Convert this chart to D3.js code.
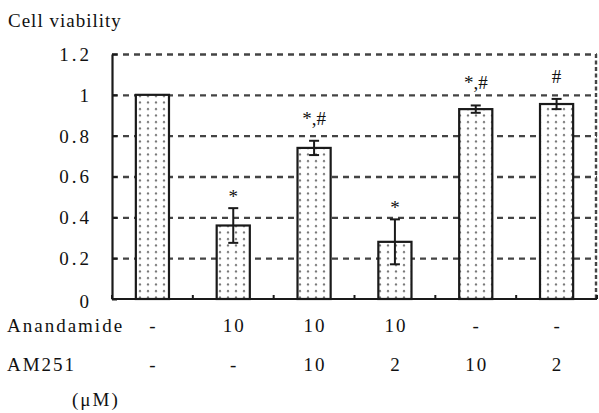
<!DOCTYPE html>
<html>
<head>
<meta charset="utf-8">
<script src="https://cdn.jsdelivr.net/npm/d3@7"></script>
<style>
  body { margin: 0; background: #fff; }
</style>
</head>
<body>
<div id="chart"></div>
<script>
// values
var viability = [1.0, 0.36, 0.74, 0.28, 0.93, 0.955];
var errors = [0, 0.085, 0.035, 0.11, 0.018, 0.025];
var marks = ["", "*", "*,#", "*", "*,#", "#"];
var anandamide = ["-", "10", "10", "10", "-", "-"];
var am251 = ["-", "-", "10", "2", "10", "2"];
var yTicks = [0, 0.2, 0.4, 0.6, 0.8, 1, 1.2];

var serif = '"Liberation Serif", "Times New Roman", "DejaVu Serif", serif';

var width = 599, height = 413;
var margin = {top: 54, right: 2, bottom: 114, left: 112};
var plotW = width - margin.left - margin.right,
    plotH = height - margin.top - margin.bottom;

var svg = d3.select("#chart").append("svg")
    .attr("width", width)
    .attr("height", height)
    .style("font-family", serif);

var defs = svg.append("defs");
var pat = defs.append("pattern")
    .attr("id", "dots")
    .attr("patternUnits", "userSpaceOnUse")
    .attr("width", 8)
    .attr("height", 6.5);
pat.append("rect").attr("width", 8).attr("height", 6.5).attr("fill", "#fff");
pat.append("circle").attr("cx", 4).attr("cy", 3).attr("r", 1.1).attr("fill", "#707070");

var g = svg.append("g")
    .attr("transform", "translate(" + margin.left + "," + margin.top + ")");

var x = d3.scaleBand()
    .domain(d3.range(viability.length))
    .range([0, plotW]);

var y = d3.scaleLinear()
    .domain([0, 1.2])
    .range([plotH, 0]);

// dashed grid
g.append("g")
    .attr("class", "grid")
    .call(d3.axisLeft(y).tickValues(yTicks.filter(d => d > 0)).tickSize(-plotW).tickFormat(""))
    .call(s => s.select(".domain").remove())
    .selectAll("line")
      .attr("stroke", "#444")
      .attr("stroke-width", 2.4)
      .attr("stroke-dasharray", "6,5");

// right dashed border
g.append("line")
    .attr("x1", plotW - 1).attr("x2", plotW - 1)
    .attr("y1", 0).attr("y2", plotH)
    .attr("stroke", "#444")
    .attr("stroke-width", 2.4)
    .attr("stroke-dasharray", "4,2.5");

// bars
var bw = x.bandwidth() * 0.41;
g.selectAll(".bar")
    .data(viability)
  .enter().append("rect")
    .attr("class", "bar")
    .attr("x", (d, i) => x(i) + (x.bandwidth() - bw) / 2)
    .attr("y", d => y(d))
    .attr("width", bw)
    .attr("height", d => plotH - y(d))
    .attr("fill", "url(#dots)")
    .attr("stroke", "#1a1a1a")
    .attr("stroke-width", 2.2);

// error bars
var eb = g.selectAll(".err")
    .data(viability.map((v, i) => ({v: v, e: errors[i], i: i})).filter(d => d.e > 0))
  .enter().append("g")
    .attr("class", "err")
    .attr("stroke", "#1a1a1a")
    .attr("stroke-width", 2);

eb.append("line")
    .attr("x1", d => x(d.i) + x.bandwidth() / 2)
    .attr("x2", d => x(d.i) + x.bandwidth() / 2)
    .attr("y1", d => y(d.v + d.e))
    .attr("y2", d => y(d.v - d.e));
eb.append("line")
    .attr("x1", d => x(d.i) + x.bandwidth() / 2 - 5)
    .attr("x2", d => x(d.i) + x.bandwidth() / 2 + 5)
    .attr("y1", d => y(d.v + d.e))
    .attr("y2", d => y(d.v + d.e));
eb.append("line")
    .attr("x1", d => x(d.i) + x.bandwidth() / 2 - 5)
    .attr("x2", d => x(d.i) + x.bandwidth() / 2 + 5)
    .attr("y1", d => y(d.v - d.e))
    .attr("y2", d => y(d.v - d.e));

// significance marks
g.selectAll(".mark")
    .data(marks)
  .enter().append("text")
    .attr("class", "mark")
    .attr("x", (d, i) => x(i) + x.bandwidth() / 2)
    .attr("y", (d, i) => y(viability[i] + errors[i]) - (d.indexOf("#") >= 0 ? 16 : 5))
    .attr("text-anchor", "middle")
    .style("font-family", serif)
    .style("font-size", "19px")
    .attr("fill", "#111")
    .text(d => d);

// left axis, short inner ticks
g.append("g")
    .attr("class", "axis axis--y")
    .call(d3.axisLeft(y).tickValues(yTicks).tickSizeInner(-5).tickSizeOuter(0).tickPadding(20)
      .tickFormat(d => String(+d.toFixed(1))))
    .call(s => s.select(".domain").attr("stroke", "#1a1a1a").attr("stroke-width", 2.2))
    .call(s => s.selectAll("line").attr("stroke", "#1a1a1a").attr("stroke-width", 2))
    .selectAll("text")
      .style("font-family", serif)
      .style("font-size", "19px")
      .style("letter-spacing", "3px")
      .attr("fill", "#111")
      .attr("dy", (d) => d === 0 ? "0.45em" : "0.34em");

// bottom axis with small ticks at category boundaries
g.append("line")
    .attr("x1", 0).attr("x2", plotW)
    .attr("y1", plotH).attr("y2", plotH)
    .attr("stroke", "#1a1a1a")
    .attr("stroke-width", 2.2);
g.selectAll(".xtick")
    .data(d3.range(viability.length + 1))
  .enter().append("line")
    .attr("class", "xtick")
    .attr("x1", d => d * x.step()).attr("x2", d => d * x.step())
    .attr("y1", plotH).attr("y2", plotH - 4)
    .attr("stroke", "#1a1a1a")
    .attr("stroke-width", 2);

// treatment rows
var rows = [
  {name: "Anandamide", vals: anandamide, y: 332},
  {name: "AM251", vals: am251, y: 371}
];
rows.forEach(function(r) {
  svg.append("text")
      .attr("x", 7).attr("y", r.y)
      .attr("fill", "#111")
      .style("font-size", "19px")
      .style("letter-spacing", "2px")
      .text(r.name);
  svg.selectAll(null)
      .data(r.vals)
    .enter().append("text")
      .attr("x", (d, i) => margin.left + x(i) + x.bandwidth() / 2 + 1)
      .attr("y", r.y)
      .attr("text-anchor", "middle")
      .attr("fill", "#111")
      .style("font-size", "19px")
      .style("letter-spacing", "2px")
      .text(d => d);
});

svg.append("text")
    .attr("x", 72).attr("y", 406)
    .attr("fill", "#111")
    .style("font-size", "19px")
    .style("letter-spacing", "2px")
    .text("(μM)");

svg.append("text")
    .attr("x", 8).attr("y", 27)
    .attr("fill", "#111")
    .style("font-size", "19px")
    .style("letter-spacing", "1px")
    .text("Cell viability");
</script>
</body>
</html>
